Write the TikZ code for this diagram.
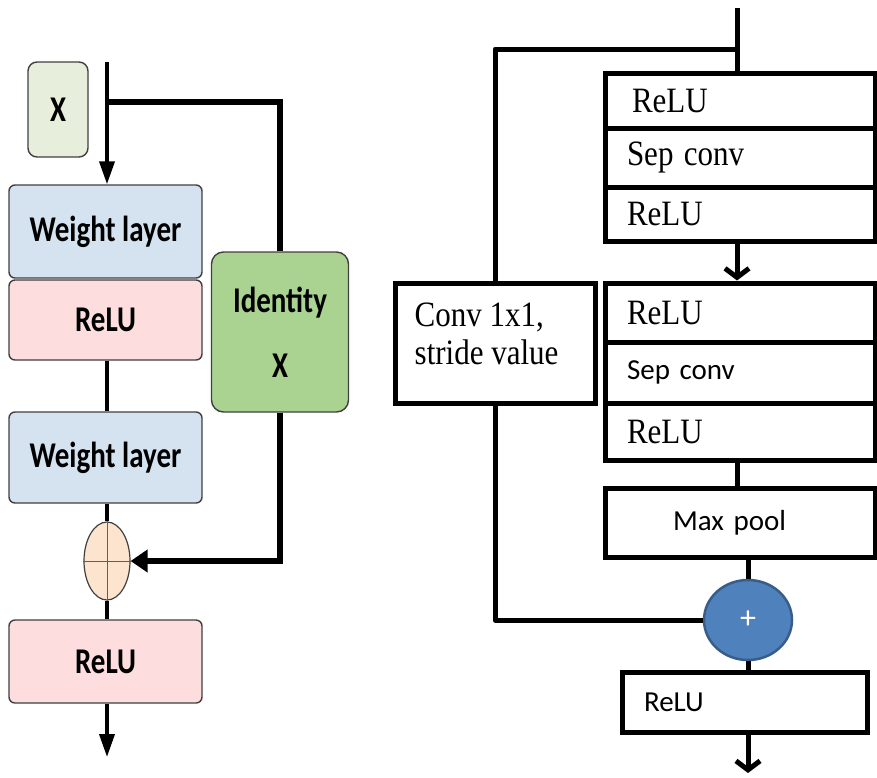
\documentclass[tikz,border=0pt]{standalone}
\usepackage{fontspec}
\setmainfont{Liberation Serif}
\newfontfamily\carl{Carlito}
\usepackage{graphicx}
\usetikzlibrary{arrows.meta,shapes.geometric,calc}

% tall lettering for the bold labels and the serif labels
\newcommand\tallt[1]{\scalebox{1}[1.25]{#1}}
\newcommand\talls[1]{\scalebox{1}[1.15]{#1}}

\definecolor{boxedge}{RGB}{64,64,64}
\definecolor{xfill}{RGB}{232,238,220}
\definecolor{wlfill}{RGB}{213,227,241}
\definecolor{relufill}{RGB}{253,221,221}
\definecolor{idfill}{RGB}{170,210,145}
\definecolor{sumfill}{RGB}{252,228,206}
\definecolor{crossc}{RGB}{110,90,70}
\definecolor{plusblue}{RGB}{79,129,189}
\definecolor{plusedge}{RGB}{56,93,138}

\begin{document}
\begin{tikzpicture}[x=1pt,y=-1pt,
  lfont/.style={font=\carl\bfseries\fontsize{29}{35}\selectfont},
  tnr/.style={font=\fontsize{31}{36}\selectfont},
  cal/.style={font=\carl\fontsize{29}{34}\selectfont},
  lbox/.style={draw=boxedge,line width=1.4pt,rounded corners=6pt,inner sep=0pt,
    minimum width=193pt,lfont},
  sq/.style={draw=black,line width=5pt,inner ysep=0pt,minimum width=270pt,
    text width=226pt,inner xsep=22pt,align=left},
  mline/.style={line width=3.8pt},
  skipline/.style={line width=5.5pt},
  rline/.style={line width=5pt,line join=round},
  ftip/.style={-{Triangle[length=23pt,width=15pt]}},
  vtip/.style={-{Straight Barb[length=9pt,width=24pt]}}
]
\useasboundingbox (0,0) rectangle (877,777);

% ---------------- residual block ----------------
\node[lbox,fill=xfill,minimum width=60pt,minimum height=95pt,rounded corners=9pt] (xb) at (58,109.5) {\tallt{X}};
\node[lbox,fill=wlfill,minimum height=93pt] (wl1) at (105.5,231.5) {\tallt{Weight layer}};
\node[lbox,fill=relufill,minimum height=80pt] (r1) at (105.5,320) {\tallt{ReLU}};
\node[lbox,fill=wlfill,minimum height=91pt] (wl2) at (105.5,457.5) {\tallt{Weight layer}};
\node[ellipse,draw=boxedge,line width=1.2pt,fill=sumfill,minimum width=46pt,minimum height=78pt,inner sep=0pt] (s1) at (107,561) {};
\node[lbox,fill=relufill,minimum height=83pt] (r2) at (105.5,661.5) {\tallt{ReLU}};
\node[lbox,fill=idfill,minimum width=137pt,minimum height=160pt,rounded corners=12pt,align=center] (idn) at (280,332) {\tallt{Identity}\\[30pt]\tallt{X}};

\draw[crossc,line width=1pt] (s1.north) -- (s1.south) (s1.west) -- (s1.east);

\coordinate (in1) at (107,62);
\coordinate (br1) at (107,102);
\coordinate (out1) at (107,757);

\draw[mline,ftip] (in1) -- (in1 |- wl1.north);
\draw[mline] (r1.south -| in1) -- (wl2.north -| in1);
\draw[mline] (wl2.south -| in1) -- (s1.north);
\draw[mline] (s1.south) -- (r2.north -| in1);
\draw[mline,ftip] (r2.south -| in1) -- (out1);
\draw[skipline] (br1) -| (idn.north);
\draw[skipline,-{Triangle[length=17pt,width=22pt]}] (idn.south) |- (s1.east);

% ---------------- separable conv block ----------------
\node[sq,tnr,minimum height=55pt,inner xsep=27pt,text width=216pt] (a1) at (740,100.5) {\talls{ReLU}};
\node[sq,tnr,minimum height=59pt] (a2) at (740,157.5) {\talls{Sep conv}};
\node[sq,tnr,minimum height=54pt] (a3) at (740,214) {\talls{ReLU}};
\node[sq,tnr,minimum height=59pt] (b1) at (740,312.5) {\talls{ReLU}};
\node[sq,cal,minimum height=61pt] (b2) at (740,372.5) {Sep conv};
\node[sq,tnr,minimum height=57pt] (b3) at (740,431.5) {\talls{ReLU}};
\node[sq,cal,minimum height=69pt,inner xsep=68pt,text width=134pt] (mp) at (740,522.5) {Max pool};
\node[draw=black,line width=5pt,minimum width=200pt,minimum height=120pt,inner sep=0pt] (conv) at (495,343) {};
\node[tnr,align=left,anchor=west,inner sep=0pt] (convtxt) at ($(conv.west)+(22,-9)$) {\talls{Conv 1x1,}\\[2pt]\talls{stride value}};
\node[ellipse,fill=plusblue,draw=plusedge,line width=2.5pt,minimum width=88pt,minimum height=80pt,inner sep=0pt,text=white,font=\carl\fontsize{32}{32}\selectfont] (s2) at (748,620) {+};
\node[sq,cal,minimum width=245pt,text width=201pt,minimum height=60pt] (r3) at (744.5,702) {ReLU};

\coordinate (top2) at (737,8);
\coordinate (br2) at (737,49);
\coordinate (out2) at (748,773);

\draw[rline] (top2) -- (top2 |- a1.north);
\draw[rline] (br2) -| (conv.north);
\draw[rline,vtip] (a3.south -| top2) -- (b1.north -| top2);
\draw[rline] (b3.south -| top2) -- (mp.north -| top2);
\draw[rline] (mp.south -| s2) -- (s2.north);
\draw[rline] (conv.south) |- (s2.west);
\draw[rline] (s2.south) -- (r3.north -| s2);
\draw[rline,vtip] (r3.south -| s2) -- (out2);
\end{tikzpicture}
\end{document}
